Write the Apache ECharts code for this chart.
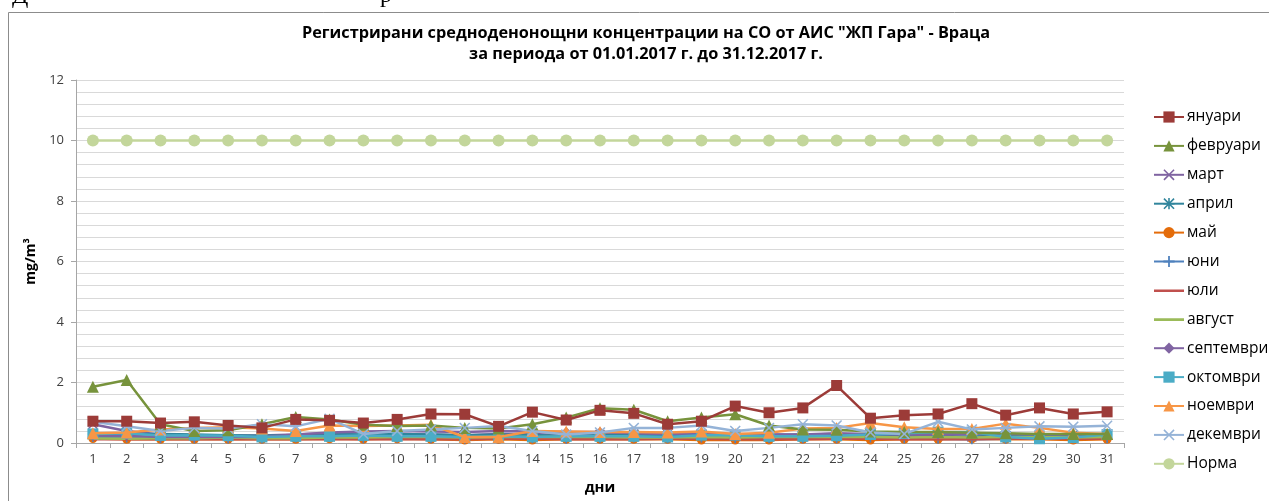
<!DOCTYPE html>
<html><head><meta charset="utf-8">
<script src="https://cdn.jsdelivr.net/npm/echarts@6/dist/echarts.min.js"></script>
<style>html,body{margin:0;padding:0;background:#fff}#c{width:1269px;height:501px}</style>
</head><body><div id="c"></div>
<script>
const days = ["1","2","3","4","5","6","7","8","9","10","11","12","13","14","15","16","17","18","19","20","21","22","23","24","25","26","27","28","29","30","31"];
const seriesNames = ["януари","февруари","март","април","май","юни","юли","август","септември","октомври","ноември","декември","Норма"];
const jan = [0.72,0.72,0.66,0.7,0.58,0.5,0.78,0.75,0.66,0.78,0.96,0.95,0.55,1.02,0.76,1.08,0.98,0.62,0.72,1.22,1.0,1.16,1.9,0.82,0.92,0.96,1.3,0.92,1.16,0.96,1.03];
const feb = [1.86,2.08,0.62,0.4,0.42,0.62,0.86,0.78,0.6,0.56,0.58,0.5,0.48,0.62,0.84,1.15,1.1,0.72,0.84,0.95,0.58,0.45,0.44,0.38,0.36,0.36,0.34,0.32,0.3,0.3,0.3];
const mar = [0.62,0.4,0.28,0.26,0.25,0.25,0.28,0.32,0.26,0.3,0.28,0.26,0.3,0.3,0.26,0.28,0.3,0.26,0.3,0.28,0.28,0.26,0.26,0.28,0.24,0.24,0.2,0.24,0.25,0.24,0.26];
const apr = [0.3,0.3,0.3,0.28,0.26,0.24,0.26,0.3,0.28,0.3,0.28,0.26,0.28,0.26,0.24,0.26,0.28,0.26,0.28,0.24,0.26,0.28,0.3,0.26,0.28,0.3,0.28,0.26,0.24,0.26,0.28];
const may = [0.15,0.12,0.12,0.12,0.12,0.12,0.12,0.14,0.12,0.14,0.12,0.1,0.12,0.1,0.12,0.12,0.12,0.12,0.1,0.1,0.1,0.12,0.12,0.1,0.12,0.12,0.14,0.12,0.12,0.1,0.12];
const jun = [0.2,0.18,0.16,0.16,0.15,0.15,0.18,0.2,0.16,0.18,0.16,0.14,0.16,0.16,0.14,0.16,0.18,0.16,0.18,0.16,0.16,0.16,0.16,0.18,0.16,0.14,0.12,0.14,0.14,0.16,0.16];
const jul = [0.12,0.12,0.12,0.12,0.12,0.12,0.12,0.12,0.12,0.12,0.12,0.12,0.14,0.14,0.12,0.12,0.12,0.14,0.14,0.12,0.12,0.12,0.14,0.14,0.12,0.12,0.12,0.14,0.14,0.14,0.14];
const aug = [0.15,0.14,0.16,0.16,0.18,0.16,0.16,0.18,0.18,0.2,0.2,0.18,0.2,0.2,0.2,0.2,0.18,0.18,0.2,0.18,0.2,0.2,0.2,0.2,0.18,0.2,0.18,0.2,0.2,0.18,0.2];
const sep = [0.25,0.24,0.2,0.2,0.2,0.2,0.28,0.35,0.38,0.4,0.38,0.36,0.4,0.38,0.36,0.36,0.32,0.3,0.32,0.3,0.28,0.28,0.32,0.3,0.28,0.28,0.3,0.3,0.28,0.28,0.3];
const oct = [0.3,0.32,0.25,0.26,0.24,0.2,0.22,0.22,0.25,0.22,0.22,0.2,0.22,0.2,0.22,0.22,0.22,0.2,0.26,0.26,0.22,0.22,0.24,0.28,0.32,0.36,0.36,0.2,0.14,0.18,0.28];
const nov = [0.32,0.35,0.45,0.5,0.52,0.48,0.4,0.58,0.56,0.58,0.6,0.2,0.2,0.4,0.38,0.36,0.36,0.35,0.38,0.3,0.34,0.48,0.5,0.66,0.52,0.46,0.46,0.64,0.5,0.34,0.3];
const dec = [0.7,0.55,0.4,0.5,0.48,0.62,0.55,0.8,0.3,0.4,0.45,0.5,0.56,0.4,0.28,0.35,0.5,0.5,0.58,0.4,0.5,0.62,0.58,0.35,0.3,0.7,0.45,0.5,0.55,0.54,0.57];
const norma = [10,10,10,10,10,10,10,10,10,10,10,10,10,10,10,10,10,10,10,10,10,10,10,10,10,10,10,10,10,10,10];
const yTicks = [0,2,4,6,8,10,12];

const X = 'path://M1,0L5,4L9,0L10,1L6,5L10,9L9,10L5,6L1,10L0,9L4,5L0,1Z';
const PLUS = 'path://M4.2,0H5.8V4.2H10V5.8H5.8V10H4.2V5.8H0V4.2H4.2Z';
const STAR = 'path://M4.3,0H5.7V10H4.3Z M0,4.3H10V5.7H0Z M1,0L10,9L9,10L0,1Z M9,0L10,1L1,10L0,9Z';
const LINEONLY = 'path://M0,0H30V0.001H0Z M0,6H30V8.6H0Z M0,14H30V14.001H0Z';

const allData = [jan,feb,mar,apr,may,jun,jul,aug,sep,oct,nov,dec,norma];
const colors = ['#9C3B38','#77933C','#7F63A1','#31859C','#E46C0A','#4F81BD','#C0504D','#9BBB59','#8064A2','#4BACC6','#F79646','#95B3D7','#C3D69B'];
const symbols = ['rect','triangle',X,STAR,'circle',PLUS,'none','none','diamond','rect','triangle',X,'circle'];
const sizes = [11,12,10,10,9,10,0,0,10,11,12,11,12];

const series = seriesNames.map((n,i)=>({
  name:n, type:'line', data:allData[i], symbol:symbols[i], symbolSize:sizes[i],
  showSymbol: symbols[i] !== 'none',
  lineStyle:{width:2.5,color:colors[i]},
  itemStyle:{color:colors[i]},
  z: 2 + (i===0?12:(i===1?11:i)),
  animation:false
}));

const legendData = seriesNames.map((n,i)=> symbols[i]==='none' ? {name:n, icon:LINEONLY} : {name:n});

const chart = echarts.init(document.getElementById('c'),null,{renderer:'canvas'});
chart.setOption({
  animation:false,
  backgroundColor:'#fff',
  title:{
    text:'Регистрирани средноденонощни концентрации на СО от АИС "ЖП Гара" - Враца\nза периода от 01.01.2017 г. до 31.12.2017 г.',
    left:641, top:18, textAlign:'center',
    textStyle:{fontFamily:'Open Sans',fontWeight:'bold',fontSize:16.3,lineHeight:21,color:'#000'}
  },
  legend:{
    orient:'vertical', left:1148, top:104, itemWidth:30, itemHeight:14, itemGap:12.9,
    textStyle:{fontFamily:'Open Sans',fontSize:15.5,color:'#000',padding:[0,0,0,-2]},
    data:legendData
  },
  grid:{left:76,right:145,top:80,bottom:58,containLabel:false},
  xAxis:{
    type:'category', data:days, boundaryGap:true,
    name:'дни', nameLocation:'middle', nameGap:37,
    nameTextStyle:{fontFamily:'Open Sans',fontWeight:'bold',fontSize:15,color:'#000'},
    axisLine:{lineStyle:{color:'#A6A6A6'}},
    axisTick:{show:true,length:5,lineStyle:{color:'#A6A6A6'}},
    axisLabel:{fontFamily:'Open Sans',fontSize:13,color:'#404040',margin:10}
  },
  yAxis:{
    type:'value', min:0, max:12, interval:2,
    name:'mg/m³', nameLocation:'middle', nameGap:30,
    nameTextStyle:{fontFamily:'Open Sans',fontWeight:'bold',fontSize:14,color:'#000'},
    axisLine:{show:true,lineStyle:{color:'#A6A6A6'}},
    axisTick:{show:true,length:5,lineStyle:{color:'#A6A6A6'}},
    axisLabel:{fontFamily:'Open Sans',fontSize:13,color:'#404040',margin:12,
      formatter:v=>yTicks.indexOf(v)>=0?String(v):''},
    splitLine:{show:true,lineStyle:{color:'#D9D9D9',width:1}},
    minorTick:{show:false,splitNumber:5},
    minorSplitLine:{show:true,lineStyle:{color:'#D9D9D9',width:1}}
  },
  graphic:[
    {type:'rect',shape:{x:8.5,y:12.5,width:1300,height:600},style:{fill:'none',stroke:'#8C8C8C',lineWidth:1},silent:true,z:-10},
    {type:'text',left:12,top:-15,style:{text:'Д',font:'24px "Liberation Serif"',fill:'#000'}},
    {type:'text',left:380,top:-16,style:{text:'р',font:'24px "Liberation Serif"',fill:'#000'}}
  ],
  series:series
});
</script></body></html>
